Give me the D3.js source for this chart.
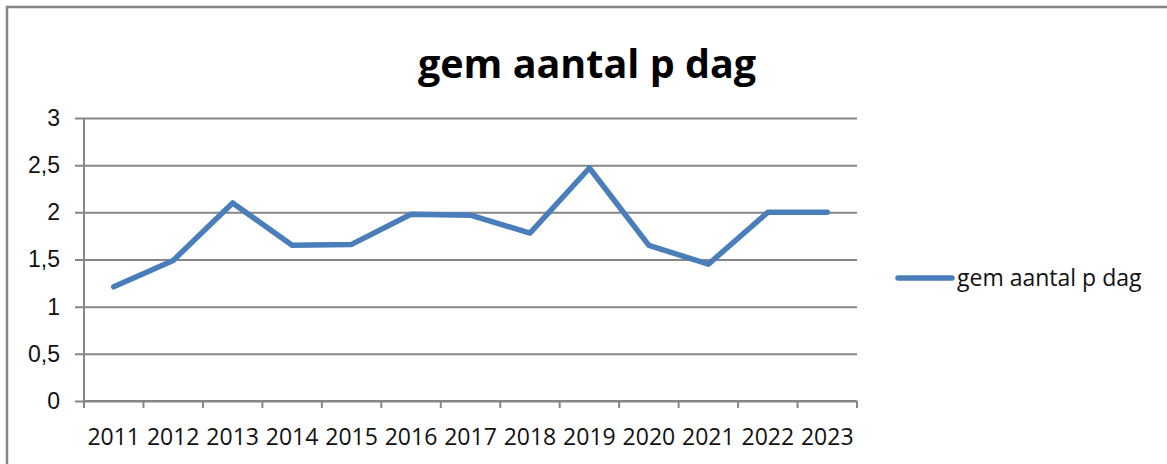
<!DOCTYPE html>
<html>
<head>
<meta charset="utf-8">
<script src="https://cdn.jsdelivr.net/npm/d3@7"></script>
<style>
  body { margin: 0; background: #fff; }
  svg { display: block; font-family: "Open Sans", sans-serif; }
</style>
</head>
<body>
<svg width="1167" height="464"></svg>
<script>
// data
var years = ['2011','2012','2013','2014','2015','2016','2017','2018','2019','2020','2021','2022','2023'];
var values = [1.21, 1.49, 2.1, 1.65, 1.66, 1.98, 1.97, 1.78, 2.47, 1.65, 1.45, 2.0, 2.0];
var yTicks = [0, 0.5, 1, 1.5, 2, 2.5, 3];
var seriesName = 'gem aantal p dag';
var title = 'gem aantal p dag';

var svg = d3.select('svg');
var width = +svg.attr('width');
var height = +svg.attr('height');
var grey = '#868686';
var blue = '#4a7ebb';

var plot = { left: 84, right: 857, top: 118, bottom: 401 };

var nl = d3.formatLocale({ decimal: ',', thousands: '.', grouping: [3], currency: ['€', ''] });
var fmt = nl.format('~g');

// outer frame
svg.append('path')
  .attr('d', 'M7,' + height + 'V7H' + width)
  .attr('fill', 'none')
  .attr('stroke', grey)
  .attr('stroke-width', 2.5);

svg.append('text')
  .attr('x', 587)
  .attr('y', 78)
  .attr('text-anchor', 'middle')
  .attr('font-size', 39.5)
  .attr('font-weight', 'bold')
  .attr('fill', '#000')
  .text(title);

var x = d3.scaleBand().domain(years).range([plot.left, plot.right]);
var y = d3.scaleLinear().domain([0, 3]).range([plot.bottom, plot.top]);

// horizontal gridlines + y axis
var yAxis = d3.axisLeft(y)
  .tickValues(yTicks)
  .tickFormat(fmt)
  .tickSize(-(plot.right - plot.left))
  .tickPadding(15);

var gy = svg.append('g')
  .attr('transform', 'translate(' + plot.left + ',0)')
  .call(yAxis);
gy.select('.domain').remove();
gy.selectAll('.tick line')
  .attr('x1', -9)
  .attr('stroke', grey)
  .attr('stroke-width', 2);
gy.selectAll('.tick text')
  .attr('font-size', 23)
  .attr('fill', '#111')
  .attr('x', -24);

svg.append('line')
  .attr('x1', plot.left).attr('x2', plot.left)
  .attr('y1', plot.top).attr('y2', plot.bottom + 7)
  .attr('stroke', grey).attr('stroke-width', 2);

// x axis: ticks sit between categories
var gx = svg.append('g')
  .attr('transform', 'translate(0,' + plot.bottom + ')');
gx.append('line')
  .attr('x1', plot.left).attr('x2', plot.right)
  .attr('stroke', grey).attr('stroke-width', 2);
var bounds = years.map(function(d) { return x(d); }).concat([x(years[years.length - 1]) + x.bandwidth()]);
gx.selectAll('line.tk')
  .data(bounds)
  .enter().append('line')
  .attr('class', 'tk')
  .attr('x1', function(d) { return d; })
  .attr('x2', function(d) { return d; })
  .attr('y1', 0).attr('y2', 7)
  .attr('stroke', grey).attr('stroke-width', 2);
gx.selectAll('text')
  .data(years)
  .enter().append('text')
  .attr('x', function(d) { return x(d) + x.bandwidth() / 2; })
  .attr('y', 44)
  .attr('text-anchor', 'middle')
  .attr('font-size', 23)
  .attr('fill', '#111')
  .text(function(d) { return d; });

// the series
var line = d3.line()
  .x(function(d, i) { return x(years[i]) + x.bandwidth() / 2; })
  .y(function(d) { return y(d); });

svg.append('path')
  .datum(values)
  .attr('d', line)
  .attr('fill', 'none')
  .attr('stroke', blue)
  .attr('stroke-width', 5.5)
  .attr('stroke-linejoin', 'round')
  .attr('stroke-linecap', 'round');

// legend
var lg = svg.append('g').attr('transform', 'translate(898,278)');
lg.append('line')
  .attr('x1', 0).attr('x2', 54)
  .attr('stroke', blue).attr('stroke-width', 5.5)
  .attr('stroke-linecap', 'round');
lg.append('text')
  .attr('x', 59)
  .attr('y', 8)
  .attr('font-size', 23)
  .attr('fill', '#111')
  .text(seriesName);
</script>
</body>
</html>
